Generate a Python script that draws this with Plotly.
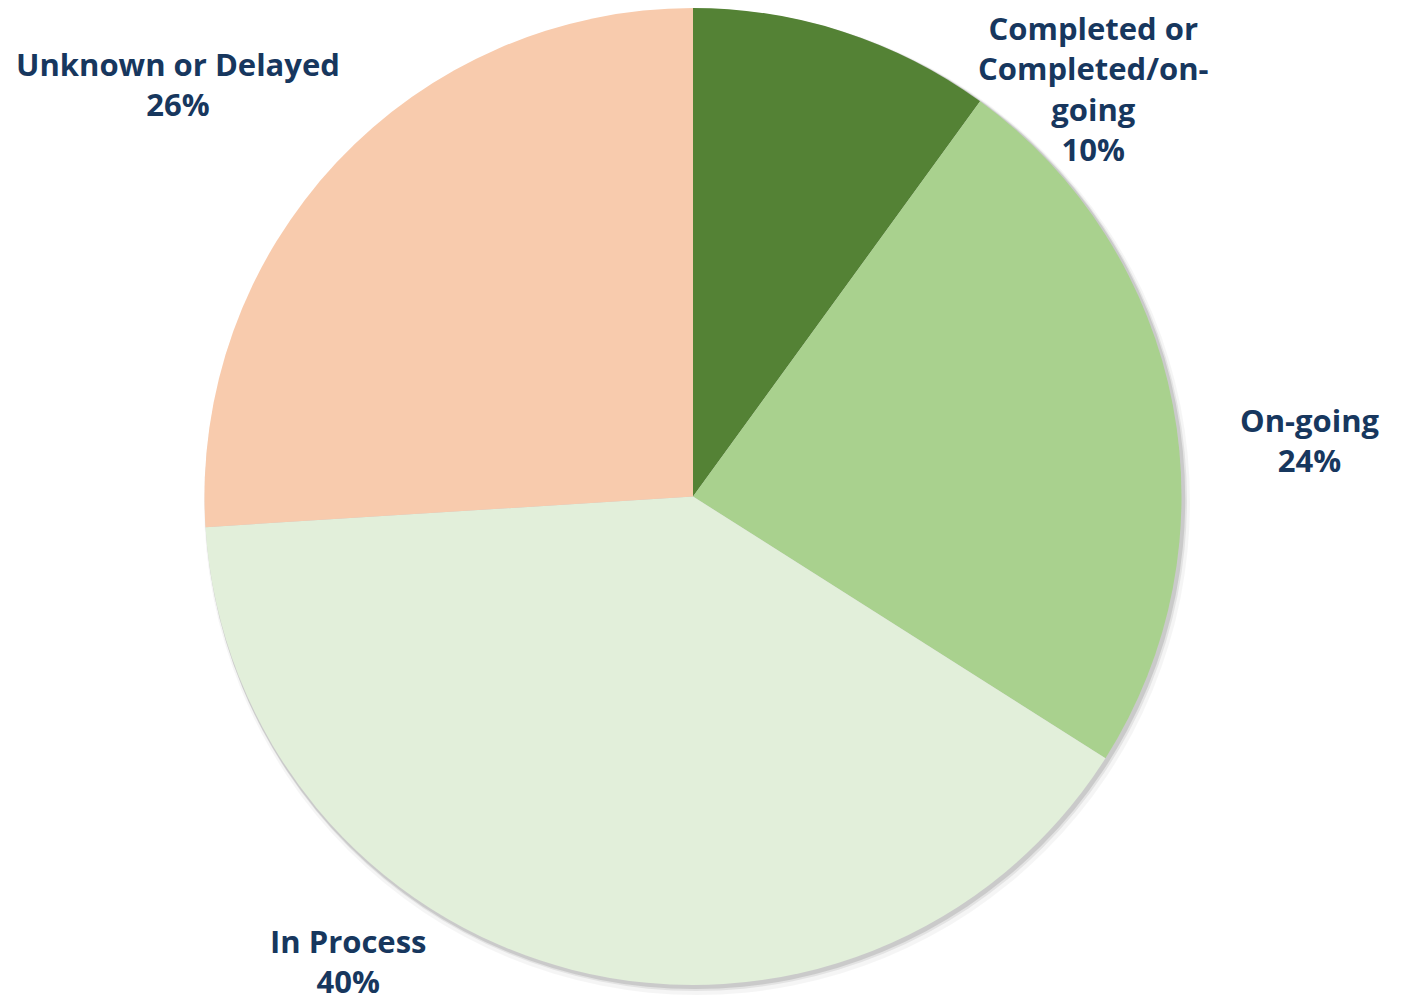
import plotly.graph_objects as go

categories = ["Completed or Completed/on-going", "On-going", "In Process", "Unknown or Delayed"]
label_text = ["Completed or<br>Completed/on-<br>going", "On-going", "In Process", "Unknown or Delayed"]
values = [10, 24, 40, 26]
colors = ["#548235", "#A9D18E", "#E2EFDA", "#F8CBAD"]

W, H = 1409, 1003
OFF = 8  # page body margin offset
cx, cy, r = 693 - OFF, 496 - OFF, 489


def dom(dx=0, dy=0, dr=0):
    rr = r + dr
    x0 = (cx + dx - rr) / W
    x1 = (cx + dx + rr) / W
    y0 = (H - (cy + dy) - rr) / H
    y1 = (H - (cy + dy) + rr) / H
    return dict(x=[max(0, x0), min(1, x1)], y=[max(0, y0), min(1, y1)])


fig = go.Figure()

# soft shadow layers
for dx, dy, dr, a in [(4, 6, 4, 0.04), (3, 4, 2, 0.07), (2, 3, 1, 0.11)]:
    fig.add_trace(go.Pie(
        values=[1], labels=["shadow"], marker=dict(colors=[f"rgba(0,0,0,{a})"], line=dict(width=0)),
        textinfo="none", hoverinfo="skip", showlegend=False, sort=False, domain=dom(dx, dy, dr),
    ))

fig.add_trace(go.Pie(
    labels=categories,
    values=values,
    marker=dict(colors=colors, line=dict(width=0)),
    sort=False,
    direction="clockwise",
    rotation=0,
    textinfo="none",
    showlegend=False,
    domain=dom(),
))

# label positions (pixel centers in the screenshot)
label_pos = [(1093, 88), (1310, 440), (348, 961), (178, 84)]
total = sum(values)
for txt, v, (lx, ly) in zip(label_text, values, label_pos):
    fig.add_annotation(
        x=(lx - OFF) / W, y=1 - (ly - OFF) / H, xref="paper", yref="paper",
        text=f"<b>{txt}<br>{round(100 * v / total)}%</b>",
        showarrow=False, xanchor="center", yanchor="middle", align="center",
        font=dict(family="'Open Sans', Lato, sans-serif", size=31, color="#17375E"),
    )

fig.update_layout(
    width=W, height=H,
    margin=dict(l=0, r=0, t=0, b=0),
    paper_bgcolor="white", plot_bgcolor="white",
)

fig.write_html("out.html")
